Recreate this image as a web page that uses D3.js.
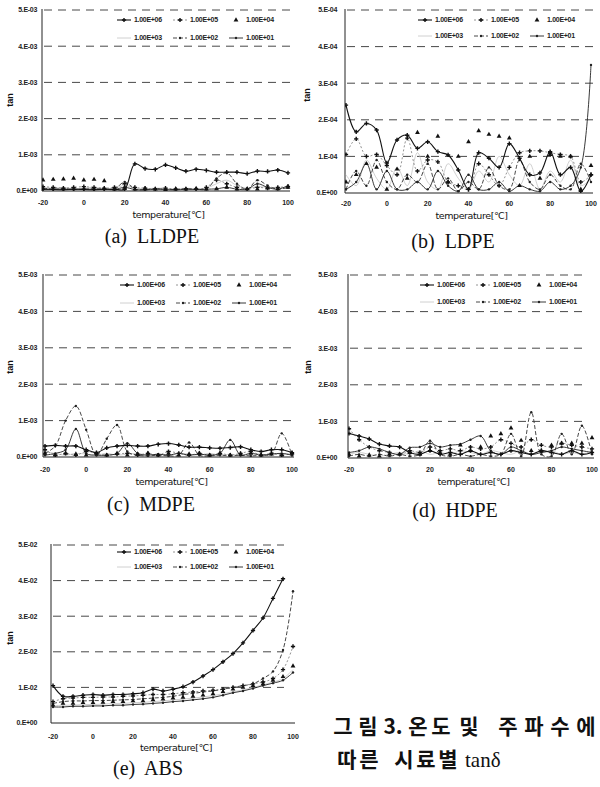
<!DOCTYPE html>
<html lang="ko">
<head>
<meta charset="UTF-8">
<script src="https://cdnjs.cloudflare.com/ajax/libs/d3/7.8.5/d3.min.js"></script>
<style>
  body { margin: 0; background: #fff; }
  svg { display: block; }
</style>
<title>tan delta</title>
</head>
<body>
<script>
  // temperature steps (°C)
  const temps = [-20, -15, -10, -5, 0, 5, 10, 15, 20, 25, 30, 35, 40, 45, 50, 55, 60, 65, 70, 75, 80, 85, 90, 95, 100];
  const xTicks = [-20, 0, 20, 40, 60, 80, 100];
  const freqLabels = ["1.00E+06", "1.00E+05", "1.00E+04", "1.00E+03", "1.00E+02", "1.00E+01"];

  const ticksE02 = ["0.E+00", "1.E-02", "2.E-02", "3.E-02", "4.E-02", "5.E-02"];
  const ticksE03 = ["0.E+00", "1.E-03", "2.E-03", "3.E-03", "4.E-03", "5.E-03"];
  const ticksE04 = ["0.E+00", "1.E-04", "2.E-04", "3.E-04", "4.E-04", "5.E-04"];

  // (a) LLDPE, x 1e-3
  const lldpe06 = [0.05, 0.05, 0.05, 0.05, 0.05, 0.05, 0.05, 0.05, 0.05, 0.75, 0.62, 0.6, 0.72, 0.64, 0.55, 0.6, 0.57, 0.52, 0.52, 0.52, 0.48, 0.55, 0.54, 0.58, 0.5];
  const lldpe05 = [0.12, 0.1, 0.08, 0.1, 0.12, 0.1, 0.08, 0.1, 0.2, 0.1, 0.08, 0.06, 0.08, 0.05, 0.06, 0.05, 0.1, 0.3, 0.2, 0.1, 0.05, 0.1, 0.08, 0.1, 0.12];
  const lldpe04 = [0.3, 0.32, 0.33, 0.35, 0.3, 0.32, 0.28, 0.05, 0.1, 0.05, 0.06, 0.05, 0.04, 0.06, 0.05, 0.07, 0.05, 0.06, 0.1, 0.05, 0.06, 0.05, 0.08, 0.06, 0.1];
  const lldpe03 = [0.1, 0.08, 0.1, 0.06, 0.08, 0.1, 0.07, 0.08, 0.15, 0.08, 0.06, 0.08, 0.07, 0.06, 0.08, 0.06, 0.08, 0.2, 0.3, 0.15, 0.08, 0.12, 0.1, 0.08, 0.1];
  const lldpe02 = [0.08, 0.05, 0.06, 0.04, 0.05, 0.06, 0.05, 0.05, 0.25, 0.05, 0.04, 0.06, 0.05, 0.04, 0.06, 0.05, 0.05, 0.35, 0.5, 0.2, 0.05, 0.3, 0.15, 0.05, 0.1];
  const lldpe01 = [0.05, 0.04, 0.03, 0.05, 0.04, 0.03, 0.05, 0.04, 0.1, 0.04, 0.03, 0.05, 0.04, 0.03, 0.05, 0.04, 0.05, 0.06, 0.1, 0.05, 0.05, 0.2, 0.1, 0.05, 0.15];

  // (b) LDPE, x 1e-4
  const ldpe06 = [2.4, 1.67, 1.9, 1.72, 0.82, 1.45, 1.58, 1.22, 1.4, 1.13, 1.04, 0.63, 0.1, 1.1, 0.95, 0.7, 1.35, 0.95, 0.5, 0.55, 1.13, 0.5, 0.7, 0.05, 0.5];
  const ldpe05 = [1.05, 1.48, 1.0, 1.05, 0.75, 0.5, 1.5, 0.6, 0.9, 0.85, 0.3, 0.2, 0.1, 0.8, 0.5, 0.2, 0.7, 1.1, 1.15, 1.15, 1.1, 1.05, 1.0, 0.3, 0.5];
  const ldpe04 = [0.3, 0.5, 0.8, 0.7, 0.1, 0.65, 0.4, 1.65, 1.0, 1.55, 0.3, 1.0, 1.4, 1.7, 1.6, 1.55, 1.5, 0.2, 1.0, 0.4, 1.05, 1.0, 1.0, 0.1, 0.75];
  const ldpe03 = [0.5, 0.2, 0.9, 0.4, 0.1, 0.7, 0.2, 1.1, 0.3, 0.1, 0.8, 0.4, 0.1, 0.6, 0.3, 1.0, 0.5, 0.2, 0.8, 0.1, 0.6, 0.3, 0.9, 0.2, 0.4];
  const ldpe02 = [0.1, 0.6, 0.2, 0.9, 0.3, 0.1, 0.5, 0.3, 0.8, 0.1, 0.4, 0.05, 0.3, 0.1, 0.7, 0.2, 0.1, 0.9, 0.3, 0.1, 0.5, 0.2, 0.1, 0.8, 0.3];
  const ldpe01 = [0.1, 0.3, 0.8, 0.1, 0.6, 0.1, 0.1, 0.3, 0.1, 0.6, 0.2, 0.05, 0.5, 0.1, 0.1, 0.3, 0.05, 0.2, 0.1, 0.05, 0.3, 0.1, 0.2, 0.7, 3.5];

  // (c) MDPE, x 1e-3
  const mdpe06 = [0.3, 0.32, 0.3, 0.3, 0.2, 0.12, 0.25, 0.3, 0.32, 0.3, 0.3, 0.35, 0.37, 0.33, 0.27, 0.27, 0.25, 0.24, 0.26, 0.28, 0.2, 0.15, 0.2, 0.2, 0.12];
  const mdpe05 = [0.2, 0.05, 0.1, 0.05, 0.15, 0.1, 0.05, 0.08, 0.1, 0.05, 0.1, 0.05, 0.15, 0.1, 0.05, 0.1, 0.05, 0.1, 0.05, 0.1, 0.15, 0.05, 0.1, 0.05, 0.1];
  const mdpe04 = [0.1, 0.05, 0.1, 0.08, 0.05, 0.1, 0.05, 0.1, 0.05, 0.08, 0.1, 0.05, 0.1, 0.05, 0.08, 0.1, 0.05, 0.1, 0.05, 0.08, 0.1, 0.05, 0.08, 0.05, 0.1];
  const mdpe03 = [0.15, 0.1, 0.05, 0.1, 0.08, 0.05, 0.1, 0.05, 0.08, 0.1, 0.05, 0.08, 0.05, 0.1, 0.08, 0.05, 0.1, 0.05, 0.08, 0.05, 0.1, 0.08, 0.05, 0.1, 0.05];
  const mdpe02 = [0.1, 0.3, 1.0, 1.4, 0.75, 0.05, 0.5, 0.88, 0.15, 0.05, 0.03, 0.05, 0.03, 0.05, 0.4, 0.05, 0.03, 0.05, 0.03, 0.05, 0.03, 0.05, 0.08, 0.65, 0.05];
  const mdpe01 = [0.05, 0.1, 0.2, 0.77, 0.1, 0.05, 0.05, 0.1, 0.38, 0.1, 0.05, 0.08, 0.05, 0.1, 0.05, 0.08, 0.05, 0.1, 0.47, 0.05, 0.1, 0.05, 0.08, 0.1, 0.05];

  // (d) HDPE, x 1e-3
  const hdpe06 = [0.67, 0.6, 0.52, 0.38, 0.33, 0.3, 0.15, 0.1, 0.2, 0.1, 0.15, 0.1, 0.2, 0.1, 0.15, 0.1, 0.2, 0.15, 0.1, 0.2, 0.15, 0.1, 0.2, 0.1, 0.15];
  const hdpe05 = [0.8, 0.5, 0.3, 0.2, 0.15, 0.1, 0.2, 0.15, 0.3, 0.2, 0.25, 0.2, 0.3, 0.25, 0.3, 0.5, 0.4, 0.3, 0.5, 0.35, 0.3, 0.4, 0.35, 0.3, 0.25];
  const hdpe04 = [0.1, 0.05, 0.08, 0.05, 0.1, 0.1, 0.15, 0.1, 0.2, 0.15, 0.1, 0.35, 0.2, 0.3, 0.6, 0.66, 0.82, 0.48, 0.2, 0.2, 0.35, 0.4, 0.4, 0.4, 0.55];
  const hdpe03 = [0.1, 0.15, 0.1, 0.05, 0.1, 0.15, 0.1, 0.2, 0.1, 0.15, 0.1, 0.2, 0.15, 0.1, 0.2, 0.15, 0.1, 0.2, 0.1, 0.15, 0.2, 0.1, 0.15, 0.1, 0.2];
  const hdpe02 = [0.05, 0.1, 0.05, 0.1, 0.05, 0.1, 0.05, 0.1, 0.47, 0.1, 0.05, 0.1, 0.05, 0.1, 0.05, 0.1, 0.66, 0.05, 1.25, 0.1, 0.05, 0.66, 0.1, 0.88, 0.1];
  const hdpe01 = [0.15, 0.2, 0.3, 0.25, 0.15, 0.1, 0.28, 0.3, 0.4, 0.3, 0.35, 0.38, 0.5, 0.6, 0.2, 0.1, 0.3, 0.2, 0.1, 0.15, 0.2, 0.3, 0.25, 0.2, 0.15];

  // (e) ABS, x 1e-2
  const abs06 = [1.05, 0.75, 0.75, 0.78, 0.8, 0.78, 0.8, 0.8, 0.82, 0.85, 0.95, 0.9, 0.95, 1.02, 1.15, 1.32, 1.5, 1.72, 1.95, 2.25, 2.6, 2.95, 3.5, 4.05, null];
  const abs05 = [0.6, 0.68, 0.7, 0.72, 0.72, 0.73, 0.73, 0.75, 0.76, 0.78, 0.8, 0.8, 0.82, 0.85, 0.87, 0.9, 0.92, 0.95, 1.0, 1.05, 1.1, 1.15, 1.25, 1.5, 2.15];
  const abs04 = [0.5, 0.55, 0.55, 0.57, 0.57, 0.58, 0.6, 0.6, 0.62, 0.62, 0.65, 0.67, 0.7, 0.72, 0.75, 0.78, 0.82, 0.88, 0.95, 1.0, 1.05, 1.1, 1.2, 1.3, 1.6];
  const abs03 = [0.48, 0.5, 0.5, 0.52, 0.52, 0.53, 0.55, 0.55, 0.57, 0.58, 0.6, 0.62, 0.65, 0.67, 0.7, 0.73, 0.77, 0.82, 0.88, 0.93, 1.0, 1.07, 1.15, 1.25, 1.5];
  const abs02 = [0.55, 0.6, 0.62, 0.62, 0.63, 0.63, 0.64, 0.65, 0.66, 0.68, 0.7, 0.72, 0.75, 0.8, 0.83, 0.87, 0.9, 0.95, 1.0, 1.05, 1.1, 1.25, 1.45, 2.05, 3.7];
  const abs01 = [0.45, 0.45, 0.47, 0.47, 0.48, 0.48, 0.5, 0.5, 0.52, 0.53, 0.55, 0.57, 0.6, 0.62, 0.65, 0.68, 0.72, 0.78, 0.85, 0.9, 0.97, 1.05, 1.12, 1.2, 1.42];

  // right-hand figure caption, one glyph group per entry
  const captionLine1 = ["그", "림", "3.", "온", "도", "및", "주", "파", "수", "에"];
  const captionLine2 = ["따", "른", "시", "료", "별"];

  // line look per frequency, same order as freqLabels
  const looks = [
    { stroke: "#111", width: 1.1, dash: null, marker: "plus" },
    { stroke: "#888", width: 0.9, dash: "2,2", marker: "plus" },
    { stroke: "none", width: 0, dash: null, marker: "tri" },
    { stroke: "#c4c4c4", width: 0.8, dash: null, marker: "none" },
    { stroke: "#333", width: 0.9, dash: "4,2", marker: "dot" },
    { stroke: "#222", width: 0.9, dash: null, marker: "dot" }
  ];

  const panels = [
    { series: [lldpe06, lldpe05, lldpe04, lldpe03, lldpe02, lldpe01], ticks: ticksE03, caption: "(a)  LLDPE",
      x0: 43, x1: 288, axisX: 42, labelX: 37, yTop: 10, y0: 191, tickY: 203, titleY: 215,
      capX: 152, capY: 236, tanX: 10, tanY: 100, legX: 117, legY1: 20, legY2: 38, gridEnd: 290 },
    { series: [ldpe06, ldpe05, ldpe04, ldpe03, ldpe02, ldpe01], ticks: ticksE04, caption: "(b)  LDPE",
      x0: 346, x1: 591, axisX: 345, labelX: 337, yTop: 10, y0: 193, tickY: 204, titleY: 216,
      capX: 453, capY: 241, tanX: 307, tanY: 95, legX: 418, legY1: 20, legY2: 36, gridEnd: 594 },
    { series: [mdpe06, mdpe05, mdpe04, mdpe03, mdpe02, mdpe01], ticks: ticksE03, caption: "(c)  MDPE",
      x0: 45, x1: 292, axisX: 43, labelX: 37, yTop: 275, y0: 457, tickY: 470, titleY: 482,
      capX: 151, capY: 504, tanX: 10, tanY: 367, legX: 120, legY1: 285, legY2: 303, gridEnd: 292 },
    { series: [hdpe06, hdpe05, hdpe04, hdpe03, hdpe02, hdpe01], ticks: ticksE03, caption: "(d)  HDPE",
      x0: 349, x1: 592, axisX: 348, labelX: 337, yTop: 275, y0: 458, tickY: 470, titleY: 482,
      capX: 455, capY: 510, tanX: 308, tanY: 367, legX: 420, legY1: 285, legY2: 302, gridEnd: 588 },
    { series: [abs06, abs05, abs04, abs03, abs02, abs01], ticks: ticksE02, caption: "(e)  ABS",
      x0: 53, x1: 293, axisX: 51, labelX: 37, yTop: 545, y0: 723, tickY: 737, titleY: 748,
      capX: 148, capY: 768, tanX: 10, tanY: 638, legX: 117, legY1: 552, legY2: 567, gridEnd: 284 }
  ];

  const W = 600, H = 787;
  const svg = d3.select("body").append("svg")
    .attr("width", W)
    .attr("height", H);

  svg.append("rect").attr("width", W).attr("height", H).attr("fill", "#fff");

  const sans = "'Liberation Sans', Arial, sans-serif";

  function marker(g, kind, x, y) {
    if (kind === "plus") {
      g.append("path").attr("d", d3.symbol(d3.symbolCross, 10)())
        .attr("transform", `translate(${x},${y})`).attr("fill", "#111");
    } else if (kind === "tri") {
      g.append("path").attr("d", d3.symbol(d3.symbolTriangle, 10)())
        .attr("transform", `translate(${x},${y})`).attr("fill", "#111");
    } else if (kind === "dot") {
      g.append("circle").attr("cx", x).attr("cy", y).attr("r", 1.2).attr("fill", "#222");
    }
  }

  panels.forEach((p, pi) => {
    const g = svg.append("g");
    const x = d3.scaleLinear().domain([-20, 100]).range([p.x0, p.x1]);
    const y = d3.scaleLinear().domain([0, 5]).range([p.y0, p.yTop]);

    // dashed gridlines 1..5
    g.selectAll(".grid").data([1, 2, 3, 4, 5]).enter().append("line")
      .attr("x1", p.axisX + 2).attr("x2", p.gridEnd)
      .attr("y1", d => y(d)).attr("y2", d => y(d))
      .attr("stroke", "#333").attr("stroke-width", 0.9)
      .attr("stroke-dasharray", "8,6");

    // axes
    g.append("line").attr("x1", p.axisX).attr("x2", p.axisX)
      .attr("y1", y(5) - 1).attr("y2", p.y0)
      .attr("stroke", "#222").attr("stroke-width", 1);
    g.append("line").attr("x1", p.axisX).attr("x2", p.x1 + 2)
      .attr("y1", p.y0).attr("y2", p.y0)
      .attr("stroke", "#222").attr("stroke-width", 1);

    // y tick labels
    g.selectAll(".yl").data(p.ticks).enter().append("text")
      .attr("x", p.labelX).attr("y", (d, i) => y(i)).attr("dy", "0.35em")
      .attr("text-anchor", "end")
      .attr("font-family", sans).attr("font-size", 7).attr("font-weight", "bold")
      .attr("letter-spacing", -0.3)
      .attr("fill", "#222").text(d => d);

    // x tick labels
    g.selectAll(".xl").data(xTicks).enter().append("text")
      .attr("x", d => x(d)).attr("y", p.tickY).attr("dy", "0.35em")
      .attr("text-anchor", "middle")
      .attr("font-family", sans).attr("font-size", 7).attr("font-weight", "bold")
      .attr("fill", "#222").text(d => d);

    g.append("text")
      .attr("x", (p.x0 + p.x1) / 2 + 3).attr("y", p.titleY).attr("dy", "0.35em")
      .attr("text-anchor", "middle")
      .attr("font-family", "'DejaVu Sans', sans-serif").attr("font-size", 9.5)
      .attr("letter-spacing", -0.4)
      .attr("fill", "#111").text("temperature[℃]");

    g.append("text")
      .attr("transform", `translate(${p.tanX},${p.tanY}) rotate(-90)`)
      .attr("dy", "0.35em").attr("text-anchor", "middle")
      .attr("font-family", sans).attr("font-size", 9).attr("font-weight", "bold")
      .attr("fill", "#111").text("tan");

    g.append("text")
      .attr("x", p.capX).attr("y", p.capY).attr("dy", "0.35em")
      .attr("text-anchor", "middle")
      .attr("font-family", "'Liberation Serif', 'Times New Roman', serif").attr("font-size", 20)
      .attr("fill", "#111")
      .style("white-space", "pre").text(p.caption);

    // clip to plot area
    const clipId = "clip" + pi;
    svg.append("defs").append("clipPath").attr("id", clipId)
      .append("rect").attr("x", p.axisX).attr("y", y(5) - 3)
      .attr("width", p.x1 - p.axisX + 8).attr("height", p.y0 - y(5) + 3);

    const plot = g.append("g").attr("clip-path", `url(#${clipId})`);
    const line = d3.line()
      .defined(d => d[1] !== null)
      .x(d => x(d[0])).y(d => y(d[1]))
      .curve(d3.curveCatmullRom.alpha(0.5));

    // draw light series first so the darker ones sit on top
    [3, 1, 4, 5, 0, 2].forEach(si => {
      const look = looks[si];
      const pts = temps.map((t, k) => [t, p.series[si][k]]);
      if (look.stroke !== "none") {
        plot.append("path").datum(pts)
          .attr("d", line)
          .attr("fill", "none")
          .attr("stroke", look.stroke)
          .attr("stroke-width", look.width)
          .attr("stroke-dasharray", look.dash);
      }
      pts.filter(d => d[1] !== null).forEach(d => marker(plot, look.marker, x(d[0]), y(d[1])));
    });

    // legend, two rows of three
    const lg = g.append("g");
    freqLabels.forEach((lab, i) => {
      const col = i % 3, row = Math.floor(i / 3);
      const lx = p.legX + col * 56;
      const ly = row === 0 ? p.legY1 : p.legY2;
      const look = looks[i];
      if (look.stroke !== "none") {
        lg.append("line").attr("x1", lx).attr("x2", lx + 14)
          .attr("y1", ly).attr("y2", ly)
          .attr("stroke", look.stroke).attr("stroke-width", look.width)
          .attr("stroke-dasharray", look.dash);
      }
      marker(lg, look.marker, lx + 7, ly);
      lg.append("text").attr("x", lx + 17).attr("y", ly).attr("dy", "0.35em")
        .attr("font-family", sans).attr("font-size", 7).attr("font-weight", "bold")
        .attr("letter-spacing", -0.3)
        .attr("fill", "#222").text(lab);
    });
  });

  // figure caption on the right, glyph by glyph to keep the wide spacing
  const cjk = "'Noto Sans CJK KR', 'Noto Sans CJK SC', sans-serif";
  const line1X = [343, 368, 393, 418, 441, 469, 508, 534, 560, 586];
  const line2X = [347, 369, 404, 426, 448];
  svg.append("g").selectAll("text").data(captionLine1).enter().append("text")
    .attr("x", (d, i) => line1X[i]).attr("y", 734)
    .attr("text-anchor", "middle")
    .attr("font-family", cjk).attr("font-size", 21).attr("font-weight", "bold")
    .attr("fill", "#111").text(d => d);
  svg.append("g").selectAll("text").data(captionLine2).enter().append("text")
    .attr("x", (d, i) => line2X[i]).attr("y", 767)
    .attr("text-anchor", "middle")
    .attr("font-family", cjk).attr("font-size", 21).attr("font-weight", "bold")
    .attr("fill", "#111").text(d => d);
  svg.append("text").attr("x", 465).attr("y", 767)
    .attr("font-family", "'Liberation Serif', serif").attr("font-size", 21)
    .attr("fill", "#111").text("tanδ");
</script>
</body>
</html>
